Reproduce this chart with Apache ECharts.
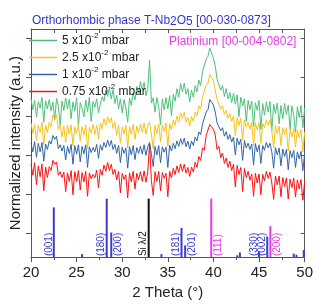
<!DOCTYPE html>
<html>
<head>
<meta charset="utf-8">
<script src="https://cdn.jsdelivr.net/npm/echarts@6/dist/echarts.min.js"></script>
<style>
html,body{margin:0;padding:0;background:#fff;}
#chart{width:316px;height:305px;}
</style>
</head>
<body>
<div id="chart"></div>
<script>
// ---------- DATA ----------
const twoTheta = [
20,20.2,20.4,20.6,20.8,21,21.2,21.4,21.6,21.8,
22,22.2,22.4,22.6,22.8,23,23.2,23.4,23.6,23.8,
24,24.2,24.4,24.6,24.8,25,25.2,25.4,25.6,25.8,
26,26.2,26.4,26.6,26.8,27,27.2,27.4,27.6,27.8,
28,28.2,28.4,28.6,28.8,29,29.2,29.4,29.6,29.8,
30,30.2,30.4,30.6,30.8,31,31.2,31.4,31.6,31.8,
32,32.2,32.4,32.6,32.8,33,33.2,33.4,33.6,33.8,
34,34.2,34.4,34.6,34.8,35,35.2,35.4,35.6,35.8,
36,36.2,36.4,36.6,36.8,37,37.2,37.4,37.6,37.8,
38,38.2,38.4,38.6,38.8,39,39.2,39.4,39.6,39.8,
40,40.2,40.4,40.6,40.8,41,41.2,41.4,41.6,41.8,
42,42.2,42.4,42.6,42.8,43,43.2,43.4,43.6,43.8,
44,44.2,44.4,44.6,44.8,45,45.2,45.4,45.6,45.8,
46,46.2,46.4,46.6,46.8,47,47.2,47.4,47.6,47.8,
48,48.2,48.4,48.6,48.8,49,49.2,49.4,49.6,49.8,50
];

const seriesNames = ['5 x10^-2 mbar', '2.5 x10^-2 mbar', '1 x10^-2 mbar', '0.75 x10^-2 mbar'];
const legendRich = ['5 x10{sup|-2} mbar', '2.5 x10{sup|-2} mbar', '1 x10{sup|-2} mbar', '0.75 x10{sup|-2} mbar'];

const green = [
34.6,31.8,34.2,30.0,33.9,32.2,35.0,28.6,34.1,32.0,
34.4,31.5,33.8,29.2,34.7,32.6,27.9,34.0,31.6,34.8,
32.0,34.5,29.5,33.8,31.4,34.9,27.5,33.6,32.1,30.0,
34.3,31.2,35.0,28.8,33.9,32.4,34.6,31.0,33.2,35.1,
34.0,36.8,35.2,37.3,34.6,37.0,33.4,35.5,32.0,34.6,
31.0,34.4,32.2,28.6,34.8,32.9,36.2,34.3,37.8,36.0,
39.0,36.9,38.8,35.4,37.2,44.5,33.5,34.8,31.2,34.9,
32.5,28.0,34.6,31.8,34.9,32.0,35.4,30.2,35.8,34.0,
37.2,35.0,38.5,36.4,38.6,35.8,37.2,33.8,36.8,35.0,
38.0,36.4,39.4,38.0,41.5,41.0,44.8,45.5,47.6,47.9,
45.0,43.0,39.6,39.6,36.8,38.0,35.2,37.2,34.6,36.2,
33.6,36.0,33.2,35.6,30.0,35.0,32.8,34.6,28.8,34.2,
31.8,34.0,27.5,33.6,31.6,34.2,26.8,33.4,30.4,33.8,
31.2,33.9,26.5,33.2,30.8,33.5,28.2,32.9,29.5,33.4,
30.6,33.0,26.8,32.8,30.4,26.0,32.6,29.8,32.9,27.2,32.2
];
const yellow = [
28.4,25.8,28.0,24.0,27.8,26.0,28.6,22.8,27.9,25.9,
28.6,27.4,30.4,29.4,30.6,26.8,28.0,24.8,27.6,23.4,
27.8,25.5,27.9,22.6,27.4,25.6,28.0,23.8,27.5,25.2,
27.9,21.8,27.3,25.8,28.1,25.4,27.8,24.2,28.4,26.9,
29.6,27.8,30.0,28.4,29.8,27.0,28.6,25.2,27.8,23.2,
27.4,25.6,27.8,22.0,27.5,25.4,28.0,24.2,27.6,25.8,
28.1,26.0,28.4,25.5,27.9,28.6,25.4,21.8,27.8,25.6,
28.2,23.6,27.9,26.2,28.4,22.4,28.2,26.6,29.2,27.8,
30.2,28.6,31.0,29.6,31.1,28.6,29.8,27.6,30.0,28.8,
31.2,30.2,32.8,32.0,35.0,35.0,38.0,38.6,40.8,41.0,
39.2,36.8,34.4,34.2,32.0,32.8,30.6,31.6,29.6,30.8,
28.8,30.2,25.2,29.8,27.8,29.6,24.0,29.2,27.4,28.6,
26.8,28.6,22.6,28.4,26.6,28.5,23.2,28.2,27.2,29.2,
27.8,29.2,26.4,22.0,27.8,25.6,27.6,22.6,27.2,25.4,
27.2,21.2,26.8,24.8,27.0,22.2,26.6,24.6,26.8,21.0,26.1
];
const blue = [
23.2,21.0,23.6,19.6,23.2,21.0,23.4,18.6,23.0,21.6,
23.8,23.0,25.2,24.2,25.0,21.8,22.8,21.2,22.6,18.9,
22.4,20.6,22.9,17.8,22.6,20.4,22.8,18.4,22.4,20.5,
22.8,17.0,22.3,20.8,22.1,21.0,22.9,19.3,22.8,21.4,
23.4,22.1,24.0,22.4,23.9,21.6,22.9,20.6,22.7,18.2,
22.2,20.6,22.0,16.8,22.3,20.2,22.6,19.0,22.1,20.6,
22.4,20.4,22.8,20.1,22.3,23.4,20.4,17.2,22.4,20.2,
22.6,18.2,22.3,20.9,22.2,17.0,22.7,21.2,23.2,21.8,
23.8,22.4,24.4,22.9,24.5,22.3,23.7,21.7,23.8,22.6,
24.8,23.8,26.1,25.4,28.1,27.8,31.2,31.8,34.4,34.8,
33.0,31.2,28.4,28.6,26.4,27.2,25.0,26.2,24.2,25.4,
23.5,24.8,20.2,24.5,22.8,24.2,18.8,23.9,22.0,23.2,
21.6,23.0,17.6,23.1,21.0,22.8,18.0,22.6,21.4,23.4,
22.0,23.2,21.0,16.8,22.1,20.2,22.0,17.4,21.7,19.8,
21.6,16.4,21.3,19.5,21.4,17.0,21.0,19.2,21.1,16.2,20.6
];
const red = [
17.8,15.0,18.2,12.6,17.4,14.6,17.9,11.0,17.1,14.4,
17.2,16.2,18.8,17.8,18.4,15.0,15.9,14.4,15.8,10.8,
15.6,13.4,16.2,10.0,15.9,13.4,16.2,11.2,15.7,13.3,
16.0,9.6,15.6,14.1,15.2,14.3,16.3,11.8,16.5,15.0,
17.6,16.0,18.3,16.2,17.8,15.2,16.5,13.8,16.0,10.5,
15.5,13.9,15.1,9.2,15.6,13.3,16.0,11.5,15.5,13.8,
15.9,13.4,16.1,13.2,15.8,23.0,13.6,9.8,15.9,13.4,
16.0,11.0,15.7,14.2,15.5,9.5,16.0,14.3,16.8,15.2,
17.4,15.7,17.9,16.0,17.8,15.5,17.0,14.7,17.1,15.8,
18.3,17.0,19.8,18.8,22.0,21.4,25.2,25.4,28.0,28.5,
26.8,25.3,21.6,22.4,19.5,20.7,18.0,19.4,17.0,18.6,
16.2,17.8,12.0,17.5,15.2,17.0,10.8,16.7,14.4,16.0,
13.7,15.3,9.6,15.5,13.0,15.3,10.0,15.2,13.6,16.0,
14.2,15.8,13.0,8.8,14.8,12.5,14.8,9.5,14.4,12.1,
14.3,8.9,14.0,11.8,14.2,9.4,13.8,11.5,13.9,8.6,13.6
];

// reference pattern sticks
const stickPos    = [22.5, 25.6, 28.3, 28.8, 32.9, 34.3, 36.5, 36.9, 39.76, 42.6, 42.9, 45.0, 45.9, 46.24, 48.8, 49.1, 49.9];
const stickInt    = [85,   5,    100,  42,   100,  5,    50,   20,   100,   3,    8,    10,   35,   53,    6,    4,    12];
const stickLabel  = ['(001)','', '(180)','(200)','Si \u03bb/2','', '(181)','(201)','(111)','','','(330)','(002)','(200)','','',''];
const stickPhase  = ['nb','nb','nb','nb','si','nb','nb','nb','pt','nb','nb','nb','nb','pt','nb','nb','nb'];
const stickSide   = ['l','l','l','r','l','l','l','r','r','l','l','l','l','r','l','l','l'];

const yTicks = [0, 10, 20, 30, 40, 50];

// ---------- STYLE ----------
const FONT = '"Liberation Sans", Arial, sans-serif';
const Y_MIN = -6, Y_MAX = 52.5;
const STICK_SCALE = 0.15;
const colors = ['#4cc27a', '#f7c21b', '#3066a6', '#ff1010'];
const phaseColor = {nb: '#3b3bd0', pt: '#e83be8', si: '#111111'};
const axisColor = '#555';

function pairs(arr){ return arr.map((v, i) => [twoTheta[i], v]); }
const seriesData = [green, yellow, blue, red];

const chart = echarts.init(document.getElementById('chart'), null, {renderer: 'canvas'});

const lineSeries = seriesData.map((d, k) => ({
  name: seriesNames[k],
  type: 'line',
  data: pairs(d),
  showSymbol: false,
  symbol: 'none',
  lineStyle: {width: 1, color: colors[k]},
  itemStyle: {color: colors[k]},
  z: 2 + k,
  animation: false
}));

const stickSeries = {
  type: 'custom',
  name: 'sticks',
  clip: false,
  data: stickPos.map((p, i) => [p, stickInt[i]]),
  renderItem: function(params, api){
    const i = params.dataIndex;
    const x = api.value(0), h = api.value(1);
    const p0 = api.coord([x, Y_MIN]);
    const p1 = api.coord([x, Y_MIN + h * STICK_SCALE]);
    const color = phaseColor[stickPhase[i]];
    const children = [{
      type: 'line',
      shape: {x1: p0[0], y1: p0[1], x2: p1[0], y2: p1[1]},
      style: {stroke: color, lineWidth: 2}
    }];
    if (stickLabel[i]) {
      children.push({
        type: 'text',
        x: p0[0] + (stickSide[i] === 'l' ? -5 : 7),
        y: p0[1] - 1,
        rotation: Math.PI / 2,
        style: {
          text: stickLabel[i],
          fill: color,
          font: '10px ' + FONT,
          align: 'left',
          verticalAlign: 'middle'
        }
      });
    }
    return {type: 'group', children: children};
  },
  z: 1,
  animation: false
};

const option = {
  animation: false,
  backgroundColor: '#fff',
  title: [{
    text: 'Orthorhombic phase T-Nb{sub|2}O{sub|5} [00-030-0873]',
    left: 27, top: 9,
    textStyle: {
      fontFamily: FONT, fontSize: 12, fontWeight: 'normal', color: '#3535c8', lineHeight: 14,
      rich: {sub: {fontFamily: FONT, fontSize: 12, color: '#3535c8', verticalAlign: 'bottom', lineHeight: 10, padding: [4,0,0,0]}}
    }
  }, {
    text: 'Platinium [00-004-0802]',
    left: 164, top: 31,
    textStyle: {fontFamily: FONT, fontSize: 12, fontWeight: 'normal', color: '#e83be8'}
  }],
  legend: {
    orient: 'vertical',
    left: 24, top: 27,
    itemWidth: 28, itemHeight: 1.5, itemGap: 0,
    icon: 'rect',
    data: seriesNames,
    formatter: function(name){ return legendRich[seriesNames.indexOf(name)]; },
    textStyle: {
      fontFamily: FONT, fontSize: 12, color: '#222', lineHeight: 17,
      rich: {sup: {fontFamily: FONT, fontSize: 8, color: '#222', verticalAlign: 'top', lineHeight: 11}}
    },
    selectedMode: false
  },
  grid: {left: 27, right: 11, top: 29, bottom: 42, containLabel: false},
  xAxis: [{
    type: 'value', min: 20, max: 50, interval: 5, position: 'bottom',
    name: '2 Theta (\u00b0)', nameLocation: 'middle', nameGap: 27,
    nameTextStyle: {fontFamily: FONT, fontSize: 15, color: '#222'},
    axisLine: {show: true, onZero: false, lineStyle: {color: axisColor, width: 1}},
    axisTick: {show: true, length: 5, inside: false, lineStyle: {color: axisColor}},
    minorTick: {show: true, splitNumber: 2, length: 3, lineStyle: {color: axisColor}},
    axisLabel: {fontFamily: FONT, fontSize: 15, color: '#222', margin: 8},
    splitLine: {show: false}
  }, {
    type: 'value', min: 20, max: 50, interval: 2.5, position: 'top',
    axisLine: {show: true, onZero: false, lineStyle: {color: axisColor, width: 1}},
    axisTick: {show: true, length: 4, inside: true, lineStyle: {color: axisColor}},
    axisLabel: {show: false},
    splitLine: {show: false}
  }],
  yAxis: [{
    type: 'value', min: Y_MIN, max: Y_MAX, position: 'left',
    name: 'Normalized intensity (a.u.)', nameLocation: 'middle', nameGap: 8,
    nameTextStyle: {fontFamily: FONT, fontSize: 15, color: '#222'},
    axisLine: {show: true, onZero: false, lineStyle: {color: axisColor, width: 1}},
    axisTick: {show: true, length: 5, inside: false, customValues: yTicks, lineStyle: {color: axisColor}},
    axisLabel: {show: false},
    splitLine: {show: false}
  }, {
    type: 'value', min: Y_MIN, max: Y_MAX, position: 'right',
    axisLine: {show: true, onZero: false, lineStyle: {color: axisColor, width: 1}},
    axisTick: {show: true, length: 4, inside: true, customValues: yTicks, lineStyle: {color: axisColor}},
    axisLabel: {show: false},
    splitLine: {show: false}
  }],
  series: [stickSeries].concat(lineSeries)
};

chart.setOption(option);
</script>
</body>
</html>
